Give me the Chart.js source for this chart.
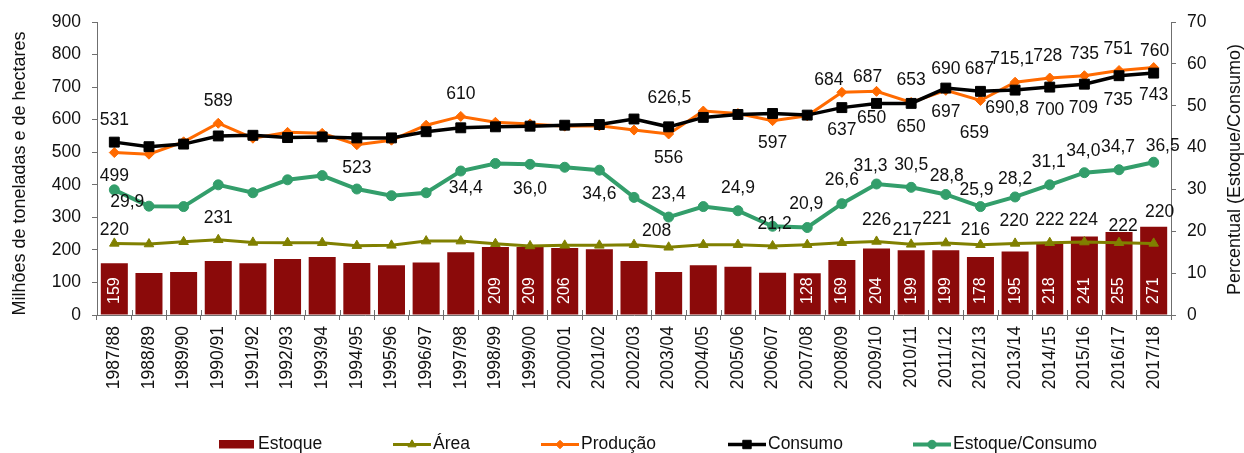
<!DOCTYPE html>
<html lang="pt-BR">
<head>
<meta charset="utf-8">
<title>Trigo no mundo: estoque, área, produção e consumo</title>
<script src="https://cdn.jsdelivr.net/npm/chart.js@4.4.1/dist/chart.umd.min.js"></script>
<style>
  html, body { margin: 0; padding: 0; background: #ffffff; }
  #wrap { width: 1244px; height: 453px; }
</style>
</head>
<body>
<div id="wrap"><canvas id="grafico" width="1244" height="453"></canvas></div>
<script>
// Safras
const safras = ['1987/88','1988/89','1989/90','1990/91','1991/92','1992/93','1993/94','1994/95','1995/96','1996/97',
  '1997/98','1998/99','1999/00','2000/01','2001/02','2002/03','2003/04','2004/05','2005/06','2006/07',
  '2007/08','2008/09','2009/10','2010/11','2011/12','2012/13','2013/14','2014/15','2015/16','2016/17','2017/18'];

// Estoque final (milhões de toneladas)
const estoque = [159,129,132,166,159,172,178,160,153,161,193,209,209,206,202,166,132,153,148,130,128,169,204,199,199,178,195,218,241,255,271];

// Área colhida (milhões de hectares)
const area = [220,218,225,231,223,222,222,213,214,227,227,219,212,214,214,216,208,216,216,212,216,222,226,217,221,216,220,222,224,222,220];

// Produção (milhões de toneladas)
const producao = [499,494,532,589,543,561,558,523,537,583,610,592,587,580,581,568,556,626.5,619,597,612,684,687,653,690,659,715.1,728,735,751,760];

// Consumo (milhões de toneladas)
const consumo = [531,517,525,550,552,545,547,544,544,563,575,578,580,583,585,602,578,607,616,619,614,637,650,650,697,687,690.8,700,709,735,743];

// Relação estoque/consumo (%)
const relacao = [29.9,26.0,25.9,31.1,29.2,32.3,33.3,30.1,28.5,29.2,34.4,36.2,36.0,35.3,34.6,28.1,23.4,25.9,24.9,21.2,20.9,26.6,31.3,30.5,28.8,25.9,28.2,31.1,34.0,34.7,36.5];

// Ticks dos eixos
const ticksEsquerda = { min: 0, max: 900, step: 100 };
const ticksDireita  = { min: 0, max: 70,  step: 10 };

// Títulos dos eixos
const tituloEsquerda = 'Milhões de toneladas e de hectares';
const tituloDireita = 'Percentual (Estoque/Consumo)';

const FONTE = "'Liberation Sans', Arial, Helvetica, sans-serif";
const COR_TEXTO = '#111111';
const COR_EIXO = '#6f6f6f';
const COR_ESTOQUE = '#8b0a0a';
const COR_AREA = '#808000';
const COR_PRODUCAO = '#ff6a00';
const COR_CONSUMO = '#000000';
const COR_RELACAO = '#339e6b';

Chart.defaults.font.family = FONTE;
Chart.defaults.color = COR_TEXTO;

// Deslocamento (dx, dy) de cada rótulo em relação ao seu ponto
const posRotulos = {
  consumo:  {0:[0,-22],21:[0,23],22:[-5,15],23:[0,24],24:[0,24],25:[-1,-22],26:[-8,18],27:[0,23],28:[-1,24],29:[-1,24],30:[0,22]},
  producao: {0:[0,24],3:[0,-22],7:[0,23],10:[0,-22],16:[0,24],17:[-34,-13],19:[0,23],21:[-13,-12],22:[-9,-14],23:[0,-22],
             24:[0,-21],25:[-6,33],26:[-3,-23],27:[-2,-22],28:[0,-22],29:[-1,-21],30:[1,-16]},
  area:     {0:[0,-13],3:[0,-22],16:[-12,-16],22:[0,-21],23:[-4,-14],24:[-9,-24],25:[-5,-15],26:[-1,-22],27:[0,-23],
             28:[-1,-22],29:[4,-17],30:[6,-31]},
  relacao:  {0:[13,12],10:[5,17],12:[0,25],14:[0,24],16:[0,-23],18:[0,-23],19:[2,-2],20:[-1,-23],21:[0,-23],22:[-6,-18],
             23:[0,-22],24:[1,-18],25:[-4,-16],26:[0,-18],27:[-1,-23],28:[-1,-22],29:[-1,-23],30:[9,-16]}
};
// Barras com o valor escrito dentro
const barrasRotuladas = [0,11,12,13,20,21,22,23,24,25,26,27,28,29,30];

function fmt(v, casas) {
  const s = (casas != null) ? v.toFixed(casas) : (Number.isInteger(v) ? String(v) : v.toFixed(1));
  return s.replace('.', ',');
}

function textoVertical(ctx, texto, x, y) {
  ctx.save();
  ctx.translate(x, y);
  ctx.rotate(-Math.PI / 2);
  ctx.fillText(texto, 0, 0);
  ctx.restore();
}

const rotulosPlugin = {
  id: 'rotulos',
  beforeDatasetsDraw(chart) {
    // meia marca interna nas divisões do eixo das safras
    const { ctx, chartArea } = chart;
    const w = (chartArea.right - chartArea.left) / safras.length;
    ctx.save();
    ctx.strokeStyle = COR_EIXO;
    ctx.lineWidth = 1;
    ctx.beginPath();
    for (let k = 0; k <= safras.length; k++) {
      const px = Math.round(chartArea.left + k * w) + 0.5;
      ctx.moveTo(px, chartArea.bottom - 5);
      ctx.lineTo(px, chartArea.bottom);
    }
    ctx.stroke();
    ctx.restore();
  },
  afterDatasetsDraw(chart) {
    const { ctx } = chart;
    ctx.save();
    // valores dentro das barras
    const metaBar = chart.getDatasetMeta(0);
    const base = chart.scales.y.getPixelForValue(0);
    ctx.fillStyle = '#ffffff';
    ctx.font = '16px ' + FONTE;
    ctx.textAlign = 'left';
    ctx.textBaseline = 'middle';
    barrasRotuladas.forEach(i => {
      textoVertical(ctx, fmt(estoque[i]), metaBar.data[i].x, base - 11);
    });
    // valores das linhas
    ctx.fillStyle = COR_TEXTO;
    ctx.font = '17.5px ' + FONTE;
    ctx.textAlign = 'center';
    chart.data.datasets.forEach((ds, di) => {
      const pos = posRotulos[ds.chave];
      if (!pos) return;
      const meta = chart.getDatasetMeta(di);
      Object.keys(pos).forEach(k => {
        const i = +k;
        const el = meta.data[i];
        const [dx, dy] = pos[k];
        ctx.fillText(fmt(ds.data[i], ds.chave === 'relacao' ? 1 : null), el.x + dx, el.y + dy);
      });
    });
    ctx.restore();
  },
  afterDraw(chart) {
    const { ctx, chartArea } = chart;
    ctx.save();
    // títulos dos eixos, lidos de baixo para cima
    ctx.fillStyle = COR_TEXTO;
    ctx.font = '18px ' + FONTE;
    ctx.textAlign = 'center';
    ctx.textBaseline = 'middle';
    const meio = (chartArea.top + chartArea.bottom) / 2;
    textoVertical(ctx, tituloEsquerda, 20, meio + 5);
    textoVertical(ctx, tituloDireita, 1235, meio + 1);

    // legenda
    const itens = [
      { ds: 0, x: 219 }, { ds: 1, x: 393 }, { ds: 2, x: 541 }, { ds: 3, x: 728 }, { ds: 4, x: 913 }
    ];
    const yl = 444.5;
    ctx.font = '17.5px ' + FONTE;
    ctx.textBaseline = 'middle';
    ctx.textAlign = 'left';
    itens.forEach(it => {
      const ds = chart.data.datasets[it.ds];
      if (ds.type === 'bar') {
        ctx.fillStyle = ds.backgroundColor;
        ctx.fillRect(it.x, yl - 4.5, 35, 8.5);
        ctx.fillStyle = COR_TEXTO;
        ctx.fillText(ds.label, it.x + 39, yl);
      } else {
        ctx.strokeStyle = ds.borderColor;
        ctx.lineWidth = ds.borderWidth;
        ctx.beginPath();
        ctx.moveTo(it.x, yl);
        ctx.lineTo(it.x + 38, yl);
        ctx.stroke();
        ctx.fillStyle = ds.pointBackgroundColor;
        ctx.strokeStyle = ds.pointBorderColor;
        ctx.lineWidth = 1;
        Chart.helpers.drawPoint(ctx, { pointStyle: ds.pointStyle, rotation: 0, radius: ds.pointRadius * 0.85, borderWidth: 1 }, it.x + 19, yl);
        ctx.fillStyle = COR_TEXTO;
        ctx.fillText(ds.label, it.x + 40, yl);
      }
    });
    ctx.restore();
  }
};

function linha(chave, label, data, cor, estilo, raio, espessura, eixo, ordem) {
  return {
    type: 'line', chave, label, data, yAxisID: eixo, order: ordem,
    borderColor: cor, backgroundColor: cor, borderWidth: espessura,
    pointStyle: estilo, pointRadius: raio, pointBackgroundColor: cor, pointBorderColor: cor, pointBorderWidth: 1,
    tension: 0, fill: false
  };
}

new Chart(document.getElementById('grafico'), {
  type: 'bar',
  data: {
    labels: safras,
    datasets: [
      { type: 'bar', chave: 'estoque', label: 'Estoque', data: estoque, yAxisID: 'y', order: 10,
        backgroundColor: COR_ESTOQUE, borderWidth: 0,
        categoryPercentage: 1, barPercentage: 0.78 },
      linha('area', 'Área', area, COR_AREA, 'triangle', 5.5, 3, 'y', 4),
      linha('producao', 'Produção', producao, COR_PRODUCAO, 'rectRot', 5, 3, 'y', 3),
      linha('consumo', 'Consumo', consumo, COR_CONSUMO, 'rect', 7, 3.5, 'y', 2),
      linha('relacao', 'Estoque/Consumo', relacao, COR_RELACAO, 'circle', 5, 4, 'y1', 5)
    ]
  },
  options: {
    responsive: false,
    animation: false,
    devicePixelRatio: 1,
    layout: { padding: { top: 22, left: 0, right: 0, bottom: 0 } },
    plugins: { legend: { display: false }, tooltip: { enabled: false } },
    scales: {
      x: {
        offset: true,
        grid: { display: true, offset: true, drawOnChartArea: false, drawTicks: true, tickLength: 5, color: COR_EIXO },
        border: { display: true, color: COR_EIXO, width: 1 },
        ticks: { autoSkip: false, maxRotation: 90, minRotation: 90, padding: 6, color: COR_TEXTO, font: { size: 17.5 } },
        afterFit(s) { s.height = 138; }
      },
      y: {
        position: 'left',
        min: ticksEsquerda.min, max: ticksEsquerda.max,
        ticks: { stepSize: ticksEsquerda.step, padding: 11, color: COR_TEXTO, font: { size: 17.5 } },
        grid: { display: true, drawOnChartArea: false, drawTicks: true, tickLength: 5, color: COR_EIXO },
        border: { display: true, color: COR_EIXO, width: 1 },
        afterFit(s) { s.width = 97; }
      },
      y1: {
        position: 'right',
        min: ticksDireita.min, max: ticksDireita.max,
        ticks: { stepSize: ticksDireita.step, padding: 11, color: COR_TEXTO, font: { size: 17.5 } },
        grid: { display: true, drawOnChartArea: false, drawTicks: true, tickLength: 5, color: COR_EIXO },
        border: { display: true, color: COR_EIXO, width: 1 },
        afterFit(s) { s.width = 73; }
      }
    }
  },
  plugins: [rotulosPlugin]
});
</script>
</body>
</html>
